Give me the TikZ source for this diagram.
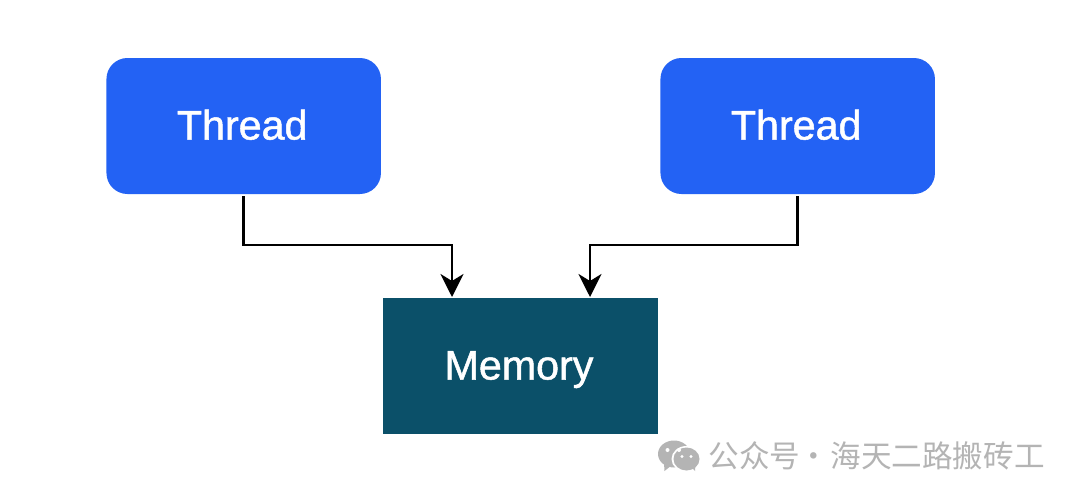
\documentclass[tikz,border=0pt]{standalone}
\usepackage{fontspec}
\setmainfont{Liberation Sans}[FakeBold=1.2]
\newfontfamily\cjkwm{Noto Sans CJK SC}
\usetikzlibrary{arrows.meta,calc}
\definecolor{threadblue}{HTML}{2362F4}
\definecolor{memteal}{HTML}{0B5069}
\definecolor{wmgrey}{HTML}{B4B4B4}
\tikzset{
  threadbox/.style={fill=threadblue,rounded corners=21pt,minimum width=274.5pt,minimum height=136pt,inner sep=0pt,outer ysep=2pt,text=white,text height=27pt,text depth=0pt,font=\fontsize{41.2}{41}\selectfont},
  membox/.style={fill=memteal,minimum width=275pt,minimum height=136pt,inner sep=0pt,outer sep=0.5pt,text=white,text height=28pt,text depth=0pt,font=\fontsize{41.2}{41}\selectfont},
  conn/.style={draw=black,line width=2.6pt,-{Stealth[length=23pt,width=23pt,inset=7pt]}},
  wmtext/.style={text=wmgrey,inner sep=0pt,anchor=west,font=\cjkwm\fontsize{30.6}{30}\selectfont},
}
\begin{document}
\begin{tikzpicture}[x=1pt,y=-1pt]
\useasboundingbox (0,0) rectangle (1080,498);
\fill[white] (0,0) rectangle (1080,498);
\node[threadbox] (t1) at (243.7,126) {\kern-3pt Thread};
\node[threadbox] (t2) at (797.7,126) {\kern-3pt Thread};
\node[membox] (mem) at (520.5,365.5) {\kern-3pt Memory};
\coordinate (m1) at ($(mem.north)+(-68.5,0)$);
\coordinate (m2) at ($(mem.north)+(69.5,0)$);
\coordinate (bend) at (520,245);
\draw[conn] (t1.south) |- (m1 |- bend) -- (m1);
\draw[conn] (t2.south) |- (m2 |- bend) -- (m2);
% WeChat icon
\fill[wmgrey] (674,454) ellipse (16pt and 13.5pt);
\fill[wmgrey] (664,463) -- (664.5,471) -- (672,465) -- cycle;
\fill[white] (686.5,459) ellipse (15pt and 13pt);
\fill[wmgrey] (686.5,459) ellipse (13pt and 11.5pt);
\fill[wmgrey] (691,467) -- (695,471) -- (695,463) -- cycle;
\fill[white] (667.5,450) circle (2pt) (679,450) circle (2pt) (682,456.5) circle (1.7pt) (691,456.5) circle (1.7pt);
\node[wmtext] (wm) at (708.5,456) {公众号\hspace{-2.5pt}·\hspace{2pt}海天二路搬砖工};
\end{tikzpicture}
\end{document}
